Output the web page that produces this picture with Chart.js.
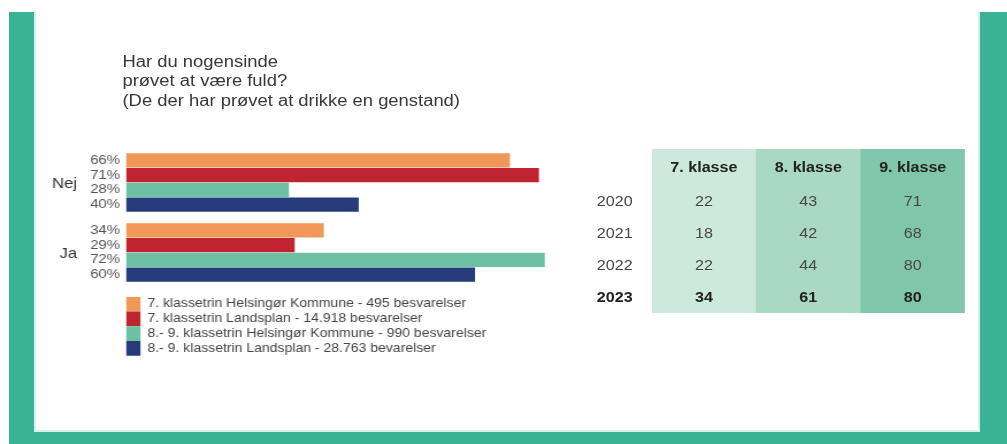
<!DOCTYPE html>
<html>
<head>
<meta charset="utf-8">
<script src="https://cdn.jsdelivr.net/npm/chart.js@4.4.1/dist/chart.umd.min.js"></script>
<style>
  html, body { margin: 0; padding: 0; background: #ffffff; }
  body { width: 1007px; height: 444px; position: relative; overflow: hidden;
         font-family: "Liberation Sans", Arial, Helvetica, sans-serif; }
  #frame { position: absolute; left: 9px; top: 12px; width: 998px; height: 432px; background: #3ab294; }
  #inner { position: absolute; left: 34px; top: 12px; width: 946px; height: 420px; background: #ffffff;
           box-sizing: border-box; border-left: 2px solid #d3f2ec; border-right: 2px solid #d3f2ec; border-bottom: 2px solid #d3f2ec; }
  #stage { position: absolute; left: 0; top: 0; width: 875.65px; height: 444px;
           transform: scaleX(1.15); transform-origin: 0 0; }
  #title { position: absolute; left: 106.5px; top: 52px; font-size: 16px; line-height: 19.3px; color: #383838; white-space: nowrap; }
  #c { position: absolute; left: 0; top: 0; }
  #tbl { position: absolute; left: 519px; top: 149px; border-collapse: collapse; border-spacing: 0; }
  #tbl td, #tbl th { padding: 0; margin: 0; font-size: 14px; }
  #tbl th { height: 36px; font-weight: bold; color: #222; text-align: center; }
  #tbl td { height: 32px; color: #474747; text-align: center; }
  #tbl .yr { width: 47.7px; text-align: left; color: #474747; background: transparent; }
  #tbl .c0 { width: 90.8px; background: #cde9dd; }
  #tbl .c1 { width: 90.8px; background: #a9d8c4; }
  #tbl .c2 { width: 90.8px; background: #80c6ad; }
  #tbl tr.bold td { font-weight: bold; color: #222; }
</style>
</head>
<body>
<div id="frame"></div>
<div id="inner"></div>
<div id="stage">
  <div id="title"></div>
  <canvas id="c" width="500" height="444"></canvas>
  <table id="tbl"></table>
</div>
<script>
// ---- chart data ----
const titleLines = ['Har du nogensinde', 'prøvet at være fuld?', '(De der har prøvet at drikke en genstand)'];
const categories = ['Nej', 'Ja'];
const seriesLabels = [
  '7. klassetrin Helsingør Kommune - 495 besvarelser',
  '7. klassetrin Landsplan - 14.918 besvarelser',
  '8.- 9. klassetrin Helsingør Kommune - 990 besvarelser',
  '8.- 9. klassetrin Landsplan - 28.763 bevarelser'
];
const helsingor7 = [66, 34];
const landsplan7 = [71, 29];
const helsingor89 = [28, 72];
const landsplan89 = [40, 60];
const seriesColors = ['#ef9859', '#bf2430', '#6cc0a4', '#263a7c'];

// ---- table data ----
const tableYears = ['2020', '2021', '2022', '2023'];
const tableColumns = ['7. klasse', '8. klasse', '9. klasse'];
const klasse7 = [22, 18, 22, 34];
const klasse8 = [43, 42, 44, 61];
const klasse9 = [71, 68, 80, 80];

// title
document.getElementById('title').innerHTML = titleLines.join('<br>');

// table
(function buildTable() {
  const cols = [klasse7, klasse8, klasse9];
  const tbl = document.getElementById('tbl');
  let html = '<tr><th class="yr"></th>';
  tableColumns.forEach((c, i) => { html += '<th class="c' + i + '">' + c + '</th>'; });
  html += '</tr>';
  tableYears.forEach((y, r) => {
    html += '<tr' + (r === tableYears.length - 1 ? ' class="bold"' : '') + '><td class="yr">' + y + '</td>';
    cols.forEach((col, i) => { html += '<td class="c' + i + '">' + col[r] + '</td>'; });
    html += '</tr>';
  });
  tbl.innerHTML = html;
})();

const FONT = '"Liberation Sans", Arial, Helvetica, sans-serif';
Chart.defaults.font.family = FONT;

const labelPlugin = {
  id: 'sideLabels',
  afterDatasetsDraw(chart) {
    const { ctx, chartArea } = chart;
    ctx.save();
    ctx.textAlign = 'right';
    ctx.textBaseline = 'middle';
    ctx.font = '13px ' + FONT;
    ctx.fillStyle = '#555555';
    chart.data.datasets.forEach((ds, di) => {
      chart.getDatasetMeta(di).data.forEach((bar, i) => {
        ctx.fillText(ds.data[i] + '%', chartArea.left - 5.2, bar.y);
      });
    });
    ctx.font = '14.5px ' + FONT;
    ctx.fillStyle = '#333333';
    const ys = chart.scales.y;
    chart.data.labels.forEach((lab, i) => {
      ctx.fillText(lab, chartArea.left - 42.6, ys.getPixelForValue(i) + 1);
    });
    ctx.restore();
  }
};

const seriesValues = [helsingor7, landsplan7, helsingor89, landsplan89];
new Chart(document.getElementById('c'), {
  type: 'bar',
  data: {
    labels: categories,
    datasets: seriesValues.map((vals, i) => ({
      label: seriesLabels[i],
      data: vals,
      backgroundColor: seriesColors[i],
      borderWidth: 0,
      categoryPercentage: 0.843,
      barPercentage: 0.96
    }))
  },
  options: {
    indexAxis: 'y',
    responsive: false,
    animation: false,
    layout: { padding: { left: 109.6, right: 11.1, top: 147.5, bottom: 78.3 } },
    scales: {
      x: {
        min: 0, max: 75, display: true,
        grid: { display: false, drawTicks: false },
        border: { display: false },
        ticks: { display: false },
        afterFit(s) { s.height = 9.2; }
      },
      y: { display: false }
    },
    plugins: {
      legend: {
        position: 'bottom',
        align: 'start',
        labels: {
          boxWidth: 12.5, boxHeight: 14.75, padding: 0,
          color: '#444444',
          font: { size: 12.2, family: FONT }
        }
      },
      tooltip: { enabled: false }
    }
  },
  plugins: [labelPlugin]
});
</script>
</body>
</html>
